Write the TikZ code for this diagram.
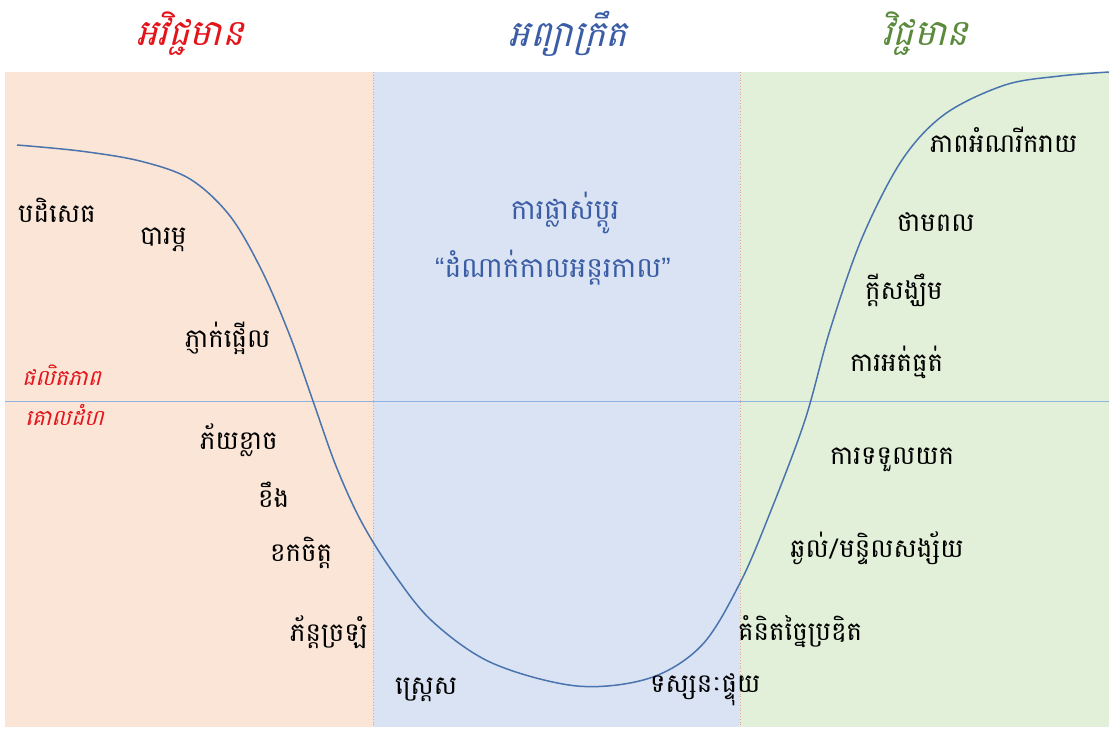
\documentclass[tikz,border=0pt]{standalone}
\usepackage{fontspec}
\newfontfamily\kh[Script=Khmer]{Battambang}
\newfontfamily\khit[Script=Khmer,FakeSlant=0.25]{Battambang}
\newfontfamily\qf{Liberation Sans}
\definecolor{peach}{HTML}{FBE5D6}
\definecolor{paleblue}{HTML}{DAE3F3}
\definecolor{palegreen}{HTML}{E2F0D9}
\definecolor{curveblue}{HTML}{4A74AE}
\definecolor{baseblue}{HTML}{8FB4E0}
\definecolor{dotred}{HTML}{E6A0A0}
\definecolor{negred}{HTML}{E3151B}
\definecolor{neublue}{HTML}{3A5DA5}
\definecolor{posgreen}{HTML}{5A8A3C}
\begin{document}
\begin{tikzpicture}[x=1pt,y=-1pt,
  lbl/.style={font=\kh\fontsize{26}{30}\selectfont, text=black, inner sep=0pt},
  mid/.style={font=\kh\fontsize{28}{32}\selectfont, text=neublue, inner sep=0pt},
  title/.style={font=\khit\fontsize{36}{40}\selectfont, inner sep=0pt},
  redlbl/.style={font=\khit\fontsize{22}{26}\selectfont, text=negred, inner sep=0pt},
  divider/.style={dotred, dotted, line width=0.8pt},
  curve/.style={curveblue, line width=1.5pt}]
\useasboundingbox (0,0) rectangle (1109,731);
\fill[white] (0,0) rectangle (1109,731);
\fill[peach] (5,72) rectangle (373,727);
\fill[paleblue] (373,72) rectangle (740,727);
\fill[palegreen] (740,72) rectangle (1109,727);
\draw[divider] (373,72) -- (373,727);
\draw[divider] (740,72) -- (740,727);
\draw[baseblue, line width=1pt] (5,401) -- (1109,401);
\draw[curve] plot[smooth, tension=0.55] coordinates {
 (17,145) (80,151) (140,161) (190,179) (230,216) (262,271) (290,336) (313,401)
 (336,466) (361,521) (392,571) (432,621) (492,663) (577,686) (650,678)
 (702,645) (740,583) (770,513) (805,420) (830,330) (862,238) (902,160)
 (945,114) (1005,85) (1060,76) (1109,72)};
% titles
\node[title, text=negred] (tneg) at (190,34) {អវិជ្ជមាន};
\node[title, text=neublue] (tneu) at (568,34) {អព្យាក្រឹត};
\node[title, text=posgreen] (tpos) at (925,34) {វិជ្ជមាន};
% left panel
\node[lbl, anchor=west] (l1) at (18,210) {បដិសេធ};
\node[lbl, anchor=west] (l2) at (140,240) {បារម្ភ};
\node[lbl, anchor=west] (l3) at (185,338) {ភ្ញាក់ផ្អើល};
\node[redlbl, anchor=west] (r1) at (22,375) {ផលិតភាព};
\node[redlbl, anchor=west] (r2) at (25,415) {គោលដំហ};
\node[lbl, anchor=west] (l4) at (200,440) {ភ័យខ្លាច};
\node[lbl, anchor=west] (l5) at (258,495) {ខឹង};
\node[lbl, anchor=west] (l6) at (270,553) {ខកចិត្ត};
\node[lbl, anchor=west] (l7) at (290,632) {ភ័ន្តច្រឡំ};
% middle
\node[lbl, anchor=west] (m1) at (395,690) {ស្ត្រេស};
\node[lbl, anchor=west] (m2) at (650,690) {ទស្សនៈផ្ទុយ};
\node[mid] (c1) at (565,213) {ការផ្លាស់ប្តូរ};
\node[mid] (c2) at (553,268) {{\qf “}ដំណាក់កាលអន្តរកាល{\qf ”}};
% right panel
\node[lbl, anchor=west] (p1) at (930,140) {ភាពអំណរីករាយ};
\node[lbl, anchor=west] (p2) at (897,222) {ថាមពល};
\node[lbl, anchor=west] (p3) at (865,290) {ក្តីសង្ឃឹម};
\node[lbl, anchor=west] (p4) at (850,362) {ការអត់ធ្មត់};
\node[lbl, anchor=west] (p5) at (830,460) {ការទទួលយក};
\node[lbl, anchor=west] (p6) at (790,548) {ឆ្ងល់/មន្ទិលសង្ស័យ};
\node[lbl, anchor=west] (p7) at (738,632) {គំនិតច្នៃប្រឌិត};
\end{tikzpicture}
\end{document}
